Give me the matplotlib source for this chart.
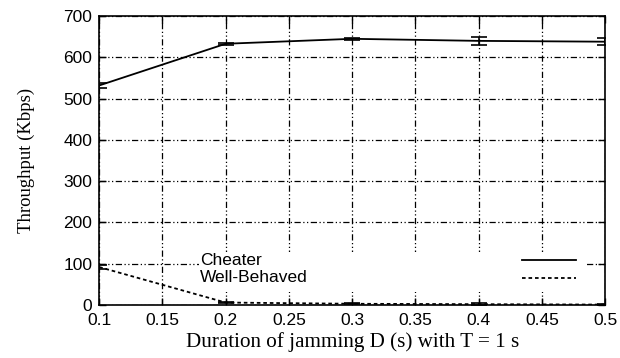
import matplotlib
matplotlib.use("Agg")
import matplotlib.pyplot as plt
from matplotlib.lines import Line2D
from matplotlib.patches import Rectangle

x = [0.1, 0.2, 0.3, 0.4, 0.5]
cheater = [532, 633, 645, 640, 638]
cheater_err = [6, 3, 3, 9, 8]
well = [92, 6, 3, 2, 1]
well_err = [5, 1, 1, 2, 1]
series_labels = ["Cheater", "Well-Behaved"]
xticks = [0.1, 0.15, 0.2, 0.25, 0.3, 0.35, 0.4, 0.45, 0.5]
xticklabels = ["0.1", "0.15", "0.2", "0.25", "0.3", "0.35", "0.4", "0.45", "0.5"]
yticks = [0, 100, 200, 300, 400, 500, 600, 700]

fig = plt.figure(figsize=(6.2, 3.58), dpi=100)
ax = fig.add_axes([0.160, 0.148, 0.816, 0.807])

grid_dash = (0, (5, 2, 1, 2, 1, 2))
ax.set_axisbelow(True)
ax.grid(True, color="black", linewidth=0.9, linestyle=grid_dash)

styles = ["-", (0, (2, 1.6))]
ax.errorbar(x, cheater, yerr=cheater_err, color="black", linewidth=1.3,
            linestyle=styles[0], capsize=6, capthick=1.2, elinewidth=1.2, zorder=3)
ax.errorbar(x, well, yerr=well_err, color="black", linewidth=1.3,
            linestyle=styles[1], capsize=6, capthick=1.2, elinewidth=1.2, zorder=3)

ax.set_xlim(0.1, 0.5)
ax.set_ylim(0, 700)
ax.set_xticks(xticks)
ax.set_xticklabels(xticklabels)
ax.set_yticks(yticks)
for lab in ax.get_xticklabels() + ax.get_yticklabels():
    lab.set_fontfamily("Liberation Sans")
    lab.set_fontsize(12.5)
ax.tick_params(direction="in", length=5, width=1, top=True, right=True)
ax.tick_params(axis="x", pad=6)
ax.tick_params(axis="y", pad=5)
for s in ax.spines.values():
    s.set_linewidth(1.2)

ax.set_xlabel("Duration of jamming D (s) with T = 1 s", fontfamily="Liberation Serif",
              fontsize=15.2, labelpad=3)
ax.set_ylabel("Throughput (Kbps)", fontfamily="Liberation Serif", fontsize=13.5,
              labelpad=20)

# gnuplot-style key: opaque white box, text on left, samples on right
ax.add_patch(Rectangle((0.197, 0.045), 0.765, 0.14, transform=ax.transAxes,
                       facecolor="white", edgecolor="none", zorder=2.5))
ys = [0.155, 0.095]
for lab, ls, yy in zip(series_labels, styles, ys):
    ax.text(0.200, yy, lab, transform=ax.transAxes, ha="left", va="center",
            fontfamily="Liberation Sans", fontsize=12.5, zorder=4)
    ax.add_line(Line2D([0.835, 0.943], [yy, yy], transform=ax.transAxes,
                       color="black", linewidth=1.3, linestyle=ls, zorder=4))

fig.savefig("out.png", dpi=100)
